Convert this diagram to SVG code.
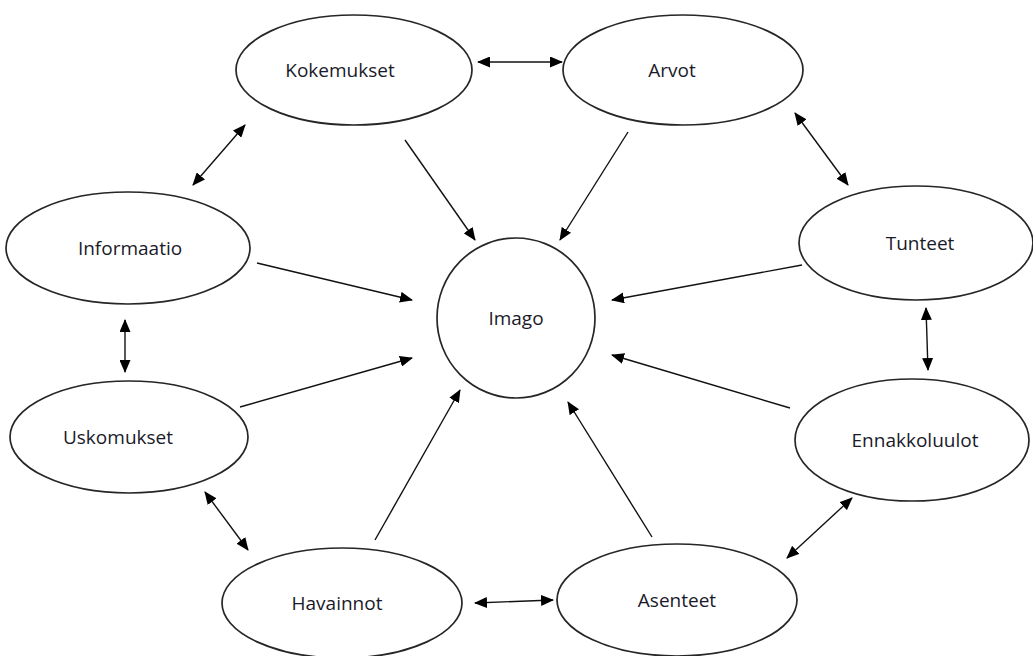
<svg xmlns="http://www.w3.org/2000/svg" width="1033" height="656" viewBox="0 0 1033 656">
<style>
.n{fill:#fff;stroke:#262626;stroke-width:1.7}
.t{font-family:"Open Sans","Liberation Sans",sans-serif;font-size:19px;fill:#1a1a2a;text-anchor:middle;dominant-baseline:central}
.c line{stroke:#111;stroke-width:1.4}
</style>
<defs>
<marker id="a" viewBox="0 0 13 11" refX="12" refY="5.5" markerWidth="13" markerHeight="11" markerUnits="userSpaceOnUse" orient="auto-start-reverse"><path d="M0,0 L13,5.5 L0,11 z" fill="#000"/></marker>
</defs>
<rect width="1033" height="656" fill="#fff"/>
<g class="c" id="connectors">
<line x1="478" y1="62" x2="562" y2="62" marker-start="url(#a)" marker-end="url(#a)"/>
<line x1="245" y1="125" x2="193" y2="185" marker-start="url(#a)" marker-end="url(#a)"/>
<line x1="795" y1="113" x2="848" y2="185" marker-start="url(#a)" marker-end="url(#a)"/>
<line x1="125" y1="320" x2="125" y2="372" marker-start="url(#a)" marker-end="url(#a)"/>
<line x1="926" y1="308" x2="928" y2="370" marker-start="url(#a)" marker-end="url(#a)"/>
<line x1="205" y1="492" x2="248" y2="550" marker-start="url(#a)" marker-end="url(#a)"/>
<line x1="852" y1="498" x2="787" y2="558" marker-start="url(#a)" marker-end="url(#a)"/>
<line x1="475" y1="603" x2="553" y2="600" marker-start="url(#a)" marker-end="url(#a)"/>
<line x1="405" y1="140" x2="475" y2="240" marker-end="url(#a)"/>
<line x1="628" y1="132" x2="560" y2="240" marker-end="url(#a)"/>
<line x1="257" y1="263" x2="412" y2="300" marker-end="url(#a)"/>
<line x1="802" y1="265" x2="612" y2="300" marker-end="url(#a)"/>
<line x1="240" y1="407" x2="412" y2="358" marker-end="url(#a)"/>
<line x1="790" y1="408" x2="612" y2="355" marker-end="url(#a)"/>
<line x1="375" y1="540" x2="460" y2="390" marker-end="url(#a)"/>
<line x1="652" y1="537" x2="568" y2="402" marker-end="url(#a)"/>
</g>
<g id="kokemukset"><ellipse class="n" cx="354" cy="70" rx="118" ry="55"/><text class="t" x="340" y="70">Kokemukset</text></g>
<g id="arvot"><ellipse class="n" cx="683" cy="70" rx="120" ry="55"/><text class="t" x="672" y="70">Arvot</text></g>
<g id="tunteet"><ellipse class="n" cx="916" cy="243" rx="117" ry="57"/><text class="t" x="920" y="243">Tunteet</text></g>
<g id="informaatio"><ellipse class="n" cx="128" cy="248" rx="122" ry="56"/><text class="t" x="130" y="248">Informaatio</text></g>
<g id="imago"><ellipse class="n" cx="516" cy="318" rx="79" ry="80"/><text class="t" x="516" y="318">Imago</text></g>
<g id="uskomukset"><ellipse class="n" cx="129" cy="437" rx="119" ry="56"/><text class="t" x="118" y="437">Uskomukset</text></g>
<g id="ennakkoluulot"><ellipse class="n" cx="912" cy="440" rx="117" ry="61"/><text class="t" x="915" y="440">Ennakkoluulot</text></g>
<g id="havainnot"><ellipse class="n" cx="342" cy="603" rx="120" ry="55"/><text class="t" x="337" y="603">Havainnot</text></g>
<g id="asenteet"><ellipse class="n" cx="677" cy="600" rx="120" ry="56"/><text class="t" x="677" y="600">Asenteet</text></g>
</svg>
